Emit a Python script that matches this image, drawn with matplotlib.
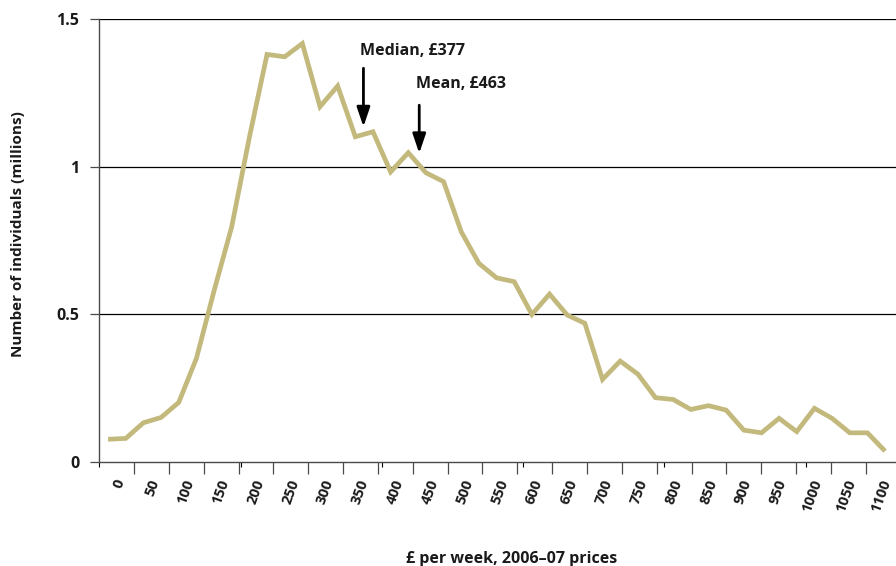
import numpy as np
import matplotlib
matplotlib.use('Agg')
import matplotlib.pyplot as plt
import matplotlib.transforms as mtransforms

plt.rcParams['font.family'] = ['Open Sans', 'DejaVu Sans']

# weekly income bins of 25, value = bin midpoint
income_mid = [12.5, 37.5, 62.5, 87.5, 112.5, 137.5, 162.5, 187.5, 212.5, 237.5,
              262.5, 287.5, 312.5, 337.5, 362.5, 387.5, 412.5, 437.5, 462.5, 487.5,
              512.5, 537.5, 562.5, 587.5, 612.5, 637.5, 662.5, 687.5, 712.5, 737.5,
              762.5, 787.5, 812.5, 837.5, 862.5, 887.5, 912.5, 937.5, 962.5, 987.5,
              1012.5, 1037.5, 1062.5, 1087.5, 1112.5]
individuals_m = [0.077, 0.080, 0.133, 0.151, 0.202, 0.351, 0.58, 0.797, 1.10, 1.381,
                 1.373, 1.418, 1.204, 1.274, 1.102, 1.119, 0.983, 1.048, 0.980, 0.950,
                 0.780, 0.673, 0.624, 0.611, 0.500, 0.569, 0.498, 0.470, 0.280, 0.342,
                 0.298, 0.218, 0.212, 0.178, 0.191, 0.176, 0.108, 0.099, 0.148, 0.103,
                 0.182, 0.148, 0.099, 0.099, 0.037]

# category labels of the x axis
x_labels = ['0', '50', '100', '150', '200', '250', '300', '350', '400', '450', '500',
            '550', '600', '650', '700', '750', '800', '850', '900', '950', '1000',
            '1050', '1100']

y_ticks = [0, 0.5, 1, 1.5]
y_ticklabels = ['0', '0.5', '1', '1.5']

median_label = 'Median, £377'
mean_label = 'Mean, £463'

line_col = '#c3b97d'
axis_col = '#4a4a4a'
txt_col = '#1a1a1a'

fig = plt.figure(figsize=(8.96, 5.66), dpi=100)
ax = fig.add_axes([0.1108, 0.1837, 0.8892, 0.7822])

ax.plot(income_mid, individuals_m, color=line_col, lw=3.4, solid_joinstyle='miter',
        solid_capstyle='butt', zorder=3)

ax.set_xlim(0, 1128)
ax.set_ylim(0, 1.5)
ax.set_yticks(y_ticks)
ax.set_yticklabels(y_ticklabels, fontsize=11.5, fontweight='bold', color=txt_col)
ax.tick_params(axis='y', length=6.5, width=0.9, color=axis_col, pad=8)
ax.tick_params(axis='x', bottom=False, labelbottom=False)
for yv in y_ticks[1:]:
    ax.axhline(yv, color='black', lw=0.9, zorder=1)

for s in ['top', 'right']:
    ax.spines[s].set_visible(False)
ax.spines['left'].set_color(axis_col)
ax.spines['left'].set_linewidth(1.0)
ax.spines['bottom'].set_color(axis_col)
ax.spines['bottom'].set_linewidth(1.0)

# category axis for the labels, ticks between categories
ax2 = ax.twiny()
ax2.set_xlim(-0.5, 22.37)
cats = np.arange(len(x_labels))
ax2.set_xticks(cats[:-1] + 0.5)
ax2.set_xticklabels([])
ax2.set_xticks(cats, minor=True)
ax2.xaxis.set_ticks_position('bottom')
ax2.xaxis.set_label_position('bottom')
ax2.tick_params(axis='x', which='major', length=8.3, width=0.9, color=axis_col)
ax2.tick_params(axis='x', which='minor', length=0, pad=13)
labs = ax2.set_xticklabels(x_labels, minor=True, rotation=70, fontsize=10.5,
                           fontweight='bold', color=txt_col)
shift = mtransforms.ScaledTranslation(0.04, 0, fig.dpi_scale_trans)
for t in labs:
    t.set_rotation_mode('anchor')
    t.set_ha('right')
    t.set_va('center')
    t.set_transform(t.get_transform() + shift)
for s in ax2.spines.values():
    s.set_visible(False)

# median / mean markers
arrow_kw = dict(arrowstyle='-|>,head_length=0.65,head_width=0.22', lw=2.0,
                color='black', mutation_scale=18, shrinkA=0, shrinkB=0)
ax.annotate('', xy=(374, 1.136), xytext=(374, 1.334), arrowprops=arrow_kw, zorder=4)
ax.annotate('', xy=(453, 1.046), xytext=(453, 1.209), arrowprops=arrow_kw, zorder=4)
ax.text(369, 1.379, median_label, fontsize=11.5, fontweight='bold', color=txt_col)
ax.text(449, 1.266, mean_label, fontsize=11.5, fontweight='bold', color=txt_col)

fig.text(18 / 896, 1 - 234 / 566, 'Number of individuals (millions)', rotation=90,
         ha='center', va='center', fontsize=11, fontweight='bold', color=txt_col)
fig.text(512 / 896, 3 / 566, '£ per week, 2006–07 prices', ha='center', va='baseline',
         fontsize=11.5, fontweight='bold', color=txt_col)

fig.savefig('out.png', dpi=100)
